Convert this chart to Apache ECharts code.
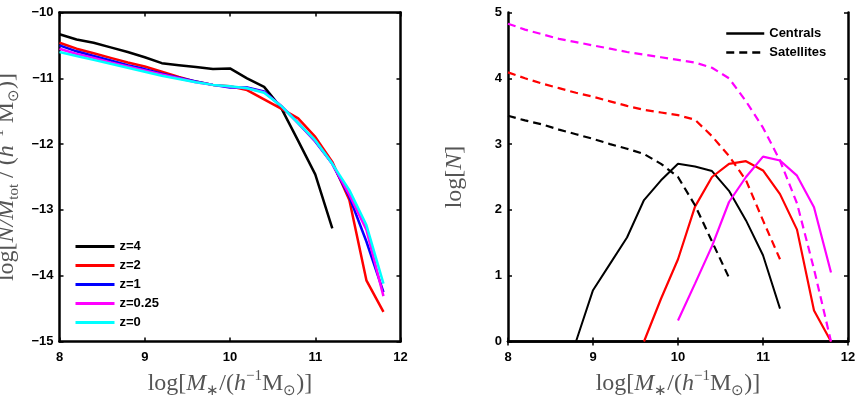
<!DOCTYPE html>
<html>
<head>
<meta charset="utf-8">
<script src="https://cdn.jsdelivr.net/npm/echarts@6/dist/echarts.min.js"></script>
<style>
html, body { margin: 0; padding: 0; background: #fff; }
#chart1 { width: 858px; height: 402px; }
</style>
</head>
<body>
<div id="chart1"></div>
<script>
// stellar mass bins, log[M*/(h^-1 Msun)]
var mass = [8.0, 8.2, 8.4, 8.6, 8.8, 9.0, 9.2, 9.4, 9.6, 9.8, 10.0, 10.2, 10.4, 10.6, 10.8, 11.0, 11.2, 11.4, 11.6, 11.8];

// left panel: log[N/Mtot]
var z4 = [-10.33, -10.41, -10.46, -10.53, -10.60, -10.68, -10.77, -10.80, -10.83, -10.86, -10.85, -11.00, -11.13, -11.45, -11.95, -12.46, -13.28];
var z2 = [-10.46, -10.55, -10.62, -10.69, -10.76, -10.82, -10.90, -10.98, -11.05, -11.10, -11.12, -11.18, -11.32, -11.46, -11.61, -11.89, -12.27, -12.85, -14.07, -14.55];
var z1 = [-10.50, -10.59, -10.66, -10.73, -10.80, -10.86, -10.93, -10.99, -11.05, -11.10, -11.14, -11.14, -11.20, -11.42, -11.68, -11.96, -12.30, -12.80, -13.48, -14.25];
var z025 = [-10.55, -10.63, -10.69, -10.76, -10.82, -10.88, -10.94, -11.00, -11.06, -11.10, -11.13, -11.15, -11.21, -11.42, -11.68, -11.95, -12.30, -12.77, -13.30, -14.31];
var z0 = [-10.60, -10.66, -10.72, -10.78, -10.84, -10.90, -10.96, -11.01, -11.06, -11.10, -11.12, -11.15, -11.22, -11.42, -11.68, -11.94, -12.30, -12.70, -13.23, -14.12];

// right panel: log[N], centrals start at later bins
var cenBlack = [0.00, 0.78, 1.18, 1.58, 2.15, 2.45, 2.70, 2.66, 2.59, 2.29, 1.84, 1.31, 0.50];   // from 8.8
var cenRed = [0.00, 0.65, 1.25, 2.05, 2.50, 2.70, 2.74, 2.60, 2.24, 1.70, 0.47, 0.00];          // from 9.6
var cenMag = [0.32, 0.88, 1.45, 2.12, 2.50, 2.81, 2.75, 2.52, 2.04, 1.05];                      // from 10.0
var satBlack = [3.43, 3.36, 3.30, 3.22, 3.15, 3.08, 3.00, 2.93, 2.85, 2.70, 2.50, 2.07, 1.52, 0.97];
var satRed = [4.09, 4.00, 3.92, 3.85, 3.78, 3.72, 3.65, 3.58, 3.52, 3.48, 3.44, 3.37, 3.12, 2.82, 2.45, 1.84, 1.25];
var satMag = [4.83, 4.74, 4.67, 4.60, 4.55, 4.50, 4.45, 4.40, 4.36, 4.32, 4.28, 4.24, 4.16, 4.00, 3.65, 3.25, 2.75, 2.10, 1.10, 0.00];

var zNames = ['z=4', 'z=2', 'z=1', 'z=0.25', 'z=0'];

function pairs(vals, startX) {
    var i0 = mass.indexOf(startX);
    return vals.map(function (v, i) { return [mass[i0 + i], v]; });
}

var myChart = echarts.init(document.getElementById('chart1'));

var tickFont = { fontFamily: 'Liberation Sans', fontWeight: 'bold', fontSize: 13, color: '#000' };
var minus = function (v) { return String(v).replace('-', '\u2212'); };

var rich = {
    n: { fontFamily: 'Liberation Serif', fontSize: 24, color: '#555', lineHeight: 30 },
    i: { fontFamily: 'Liberation Serif', fontStyle: 'italic', fontSize: 24, color: '#555', lineHeight: 30 },
    s: { fontFamily: 'Liberation Serif', fontSize: 15, color: '#555', verticalAlign: 'bottom', lineHeight: 30 },
    sup: { fontFamily: 'Liberation Serif', fontSize: 15, color: '#555', verticalAlign: 'top', lineHeight: 30 }
};
var massName = '{n|log[}{i|M}{s|\u2217}{n|/(}{i|h}{sup|\u22121}{n|M}{s|\u2299}{n|)]}';

function xAxes(grid) {
    return [{
        gridIndex: grid, type: 'value', min: 8, max: 12, interval: 1, position: 'bottom',
        axisLine: { lineStyle: { color: '#000', width: 2.5 } },
        axisTick: { inside: true, length: 4, lineStyle: { color: '#000', width: 1.5 } },
        axisLabel: Object.assign({ margin: 9 }, tickFont),
        splitLine: { show: false },
        name: massName, nameLocation: 'middle', nameGap: 27, nameTextStyle: { rich: rich }
    }, {
        gridIndex: grid, type: 'value', min: 8, max: 12, interval: 1, position: 'top',
        axisLine: { lineStyle: { color: '#000', width: 2.5 } },
        axisTick: { inside: true, length: 4, lineStyle: { color: '#000', width: 1.5 } },
        axisLabel: { show: false }, splitLine: { show: false }
    }];
}

function yAxes(grid, lo, hi, name, gap) {
    return [{
        gridIndex: grid, type: 'value', min: lo, max: hi, interval: 1, position: 'left',
        axisLine: { lineStyle: { color: '#000', width: 2.5 } },
        axisTick: { inside: true, length: 4, lineStyle: { color: '#000', width: 1.5 } },
        axisLabel: Object.assign({ margin: 6, formatter: minus }, tickFont),
        splitLine: { show: false },
        name: name, nameLocation: 'middle', nameGap: gap, nameRotate: 90, nameTextStyle: { rich: rich }
    }, {
        gridIndex: grid, type: 'value', min: lo, max: hi, interval: 1, position: 'right',
        axisLine: { lineStyle: { color: '#000', width: 2.5 } },
        axisTick: { inside: true, length: 4, lineStyle: { color: '#000', width: 1.5 } },
        axisLabel: { show: false }, splitLine: { show: false }
    }];
}

function line(name, data, color, xi, yi, width, dashed) {
    return {
        name: name, type: 'line', xAxisIndex: xi, yAxisIndex: yi,
        data: data, showSymbol: false, symbol: 'none', animation: false,
        lineStyle: { color: color, width: width, type: dashed ? [8, 5] : 'solid' },
        itemStyle: { color: color }
    };
}

option = {
    animation: false,
    grid: [
        { left: 59.5, top: 12.5, width: 341, height: 329, outerBoundsMode: 'none' },
        { left: 508, top: 12.5, width: 340, height: 329, outerBoundsMode: 'none' }
    ],
    xAxis: xAxes(0).concat(xAxes(1)),
    yAxis: yAxes(0, -15, -10,
        '{n|log[}{i|N/M}{s|tot}{n| / (}{i|h}{sup|\u22121}{n| M}{s|\u2299}{n|)]}', 38)
        .concat(yAxes(1, 0, 5, '{n|log[}{i|N}{n|]}', 38)),
    legend: [{
        data: zNames, orient: 'vertical', left: 69, top: 235,
        itemWidth: 39, itemHeight: 14, itemGap: 6,
        itemStyle: { opacity: 0, borderWidth: 0 },
        lineStyle: { width: 3 },
        textStyle: tickFont
    }, {
        data: ['Centrals', 'Satellites'], orient: 'vertical', left: 720, top: 22,
        itemWidth: 38, itemHeight: 14, itemGap: 6,
        itemStyle: { opacity: 0, borderWidth: 0 },
        lineStyle: { width: 2.5 },
        textStyle: tickFont
    }],
    series: [
        line('z=4', pairs(z4, 8.0), '#000000', 0, 0, 2.5),
        line('z=2', pairs(z2, 8.0), '#ff0000', 0, 0, 2.5),
        line('z=1', pairs(z1, 8.0), '#0000ff', 0, 0, 2.5),
        line('z=0.25', pairs(z025, 8.0), '#ff00ff', 0, 0, 2.5),
        line('z=0', pairs(z0, 8.0), '#00ffff', 0, 0, 2.5),

        line('Centrals', pairs(cenBlack, 8.8), '#000000', 2, 2, 2),
        line('Centrals red', pairs(cenRed, 9.6), '#ff0000', 2, 2, 2.2),
        line('Centrals magenta', pairs(cenMag, 10.0), '#ff00ff', 2, 2, 2.2),
        line('Satellites', pairs(satBlack, 8.0), '#000000', 2, 2, 2.2, true),
        line('Satellites red', pairs(satRed, 8.0), '#ff0000', 2, 2, 2.2, true),
        line('Satellites magenta', pairs(satMag, 8.0), '#ff00ff', 2, 2, 2.2, true)
    ]
};
myChart.setOption(option);
window.onresize = myChart.resize;
</script>
</body>
</html>
